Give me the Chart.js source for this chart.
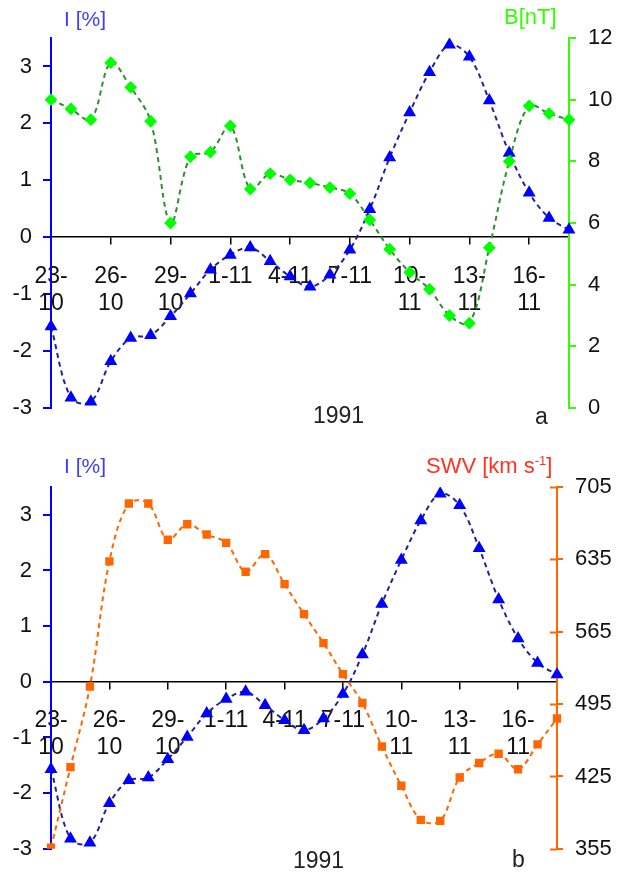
<!DOCTYPE html>
<html>
<head>
<meta charset="utf-8">
<script src="https://cdn.jsdelivr.net/npm/chart.js@4.4.0/dist/chart.umd.min.js"></script>
<style>
  html, body { margin: 0; padding: 0; background: #fff; }
  .panel { width: 620px; height: 437px; }
  canvas { display: block; }
</style>
</head>
<body>
<div class="panel"><canvas id="chartA" width="620" height="437"></canvas></div>
<div class="panel"><canvas id="chartB" width="620" height="437"></canvas></div>
<script>
const days = ['23-10', '24-10', '25-10', '26-10', '27-10', '28-10', '29-10', '30-10', '31-10',
    '1-11', '2-11', '3-11', '4-11', '5-11', '6-11', '7-11', '8-11', '9-11', '10-11',
    '11-11', '12-11', '13-11', '14-11', '15-11', '16-11', '17-11', '18-11'];

// cosmic ray intensity variation, %
const intensity = [-1.57, -2.82, -2.89, -2.18, -1.77, -1.72, -1.39, -0.99, -0.57,
    -0.31, -0.18, -0.42, -0.69, -0.87, -0.66, -0.22, 0.49, 1.40, 2.19,
    2.90, 3.38, 3.17, 2.40, 1.48, 0.78, 0.34, 0.13];

// interplanetary magnetic field, nT
const magneticField = [10.0, 9.7, 9.35, 11.2, 10.4, 9.3, 6.0, 8.15, 8.3,
    9.15, 7.1, 7.6, 7.4, 7.3, 7.15, 6.95, 6.1, 5.15, 4.4,
    3.85, 3.0, 2.75, 5.2, 8.0, 9.8, 9.55, 9.35];

// solar wind velocity, km/s
const windSpeed = [356, 434, 512, 633, 689, 689, 654, 669, 659,
    651, 623, 640, 611, 582, 554, 524, 496, 454, 416,
    383, 382, 424, 438, 447, 432, 456, 481];

const intensityTicks = [-3, -2, -1, 0, 1, 2, 3];
const fieldTicks = [0, 2, 4, 6, 8, 10, 12];
const speedTicks = [355, 425, 495, 565, 635, 705];

const FONT = 'Liberation Sans, Arial, sans-serif';
const BLUE = '#0000ff';
const GREEN = '#33ff00';
const ORANGE = '#ff6600';

function fixTicks(values) {
    return scale => { scale.ticks = values.map(v => ({ value: v })); };
}

function dayLabel(value, index) {
    if (index % 3 !== 0) return null;
    const s = this.getLabelForValue(value);
    return s.length > 4 ? [s.slice(0, 3), s.slice(3)] : s;
}

function xAxis() {
    return {
        type: 'category',
        position: { y: 0 },
        grid: { drawOnChartArea: false, tickLength: 7, color: '#000', lineWidth: 1.5 },
        border: { display: true, color: '#000', width: 1.5 },
        ticks: {
            autoSkip: false, maxRotation: 0, minRotation: 0, padding: 19, color: '#111',
            font: { family: FONT, size: 23, lineHeight: 1.16 },
            callback: dayLabel
        },
        afterFit: s => { s.height = 0; }
    };
}

function yAxis(pos, min, max, values, color, width, tickLen, pad) {
    return {
        position: pos,
        min: min,
        max: max,
        afterBuildTicks: fixTicks(values),
        grid: { drawOnChartArea: false, tickLength: tickLen, color: color, lineWidth: 2 },
        border: { display: true, color: color, width: 2 },
        ticks: { padding: pad, color: '#111', font: { family: FONT, size: 22 } },
        afterFit: s => { s.width = width; }
    };
}

function intensitySet() {
    return {
        label: 'I [%]',
        data: intensity,
        yAxisID: 'y',
        borderColor: '#22229a',
        borderWidth: 2,
        borderDash: [5, 4],
        tension: 0.35,
        pointStyle: 'triangle',
        pointRadius: 5.5,
        pointBackgroundColor: BLUE,
        pointBorderColor: BLUE
    };
}

// free text on the canvas: axis titles, year, panel letter
const annotate = {
    id: 'annotate',
    afterDraw(chart, args, opts) {
        const ctx = chart.ctx;
        ctx.save();
        ctx.textBaseline = 'middle';
        (opts.items || []).forEach(t => {
            const size = t.size || 21;
            ctx.font = size + 'px ' + FONT;
            ctx.fillStyle = t.color;
            ctx.textAlign = 'left';
            let x = t.x;
            t.parts.forEach(p => {
                if (p.sup) {
                    ctx.font = Math.round(size * 0.6) + 'px ' + FONT;
                    ctx.fillText(p.text, x, t.y - 6);
                    x += ctx.measureText(p.text).width;
                    ctx.font = size + 'px ' + FONT;
                } else {
                    ctx.fillText(p.text, x, t.y);
                    x += ctx.measureText(p.text).width;
                }
            });
        });
        // tick marks on the right axis that cross into the plot
        if (opts.crossAxis) {
            const sc = chart.scales[opts.crossAxis];
            ctx.strokeStyle = opts.crossColor;
            ctx.lineWidth = 2;
            sc.ticks.forEach(tk => {
                const py = Math.round(sc.getPixelForValue(tk.value)) + 0.5;
                ctx.beginPath();
                ctx.moveTo(sc.left - 7, py);
                ctx.lineTo(sc.left, py);
                ctx.stroke();
            });
        }
        ctx.restore();
    }
};

new Chart(document.getElementById('chartA'), {
    type: 'line',
    data: {
        labels: days,
        datasets: [
            {
                label: 'B[nT]',
                data: magneticField,
                yAxisID: 'y2',
                borderColor: '#2f8f2f',
                borderWidth: 2,
                borderDash: [5, 4],
                tension: 0.35,
                pointStyle: 'rectRot',
                pointRadius: 5,
                pointBackgroundColor: '#00ff00',
                pointBorderColor: '#00ff00'
            },
            intensitySet()
        ]
    },
    options: {
        responsive: false,
        animation: false,
        layout: { padding: { top: 38, bottom: 29, left: 0, right: 0 } },
        plugins: {
            legend: { display: false },
            tooltip: { enabled: false },
            annotate: {
                items: [
                    { x: 64, y: 20, color: '#3d3dff', parts: [{ text: 'I [%]' }] },
                    { x: 504, y: 18, color: GREEN, size: 22, parts: [{ text: 'B[nT]' }] },
                    { x: 313, y: 417, color: '#222', size: 23, parts: [{ text: '1991' }] },
                    { x: 535, y: 418, color: '#222', size: 23, parts: [{ text: 'a' }] }
                ]
            }
        },
        scales: {
            x: xAxis(),
            y: yAxis('left', -3, 3.5, intensityTicks, BLUE, 51, 8, 11),
            y2: yAxis('right', 0, 12, fieldTicks, GREEN, 51, 7, 12)
        }
    },
    plugins: [annotate]
});

new Chart(document.getElementById('chartB'), {
    type: 'line',
    data: {
        labels: days,
        datasets: [
            {
                label: 'SWV [km s-1]',
                data: windSpeed,
                yAxisID: 'y2',
                borderColor: ORANGE,
                borderWidth: 2,
                borderDash: [5, 4],
                tension: 0.35,
                pointStyle: 'rect',
                pointRadius: 4.5,
                pointBackgroundColor: ORANGE,
                pointBorderColor: ORANGE
            },
            intensitySet()
        ]
    },
    options: {
        responsive: false,
        animation: false,
        layout: { padding: { top: 50, bottom: 18, left: 0, right: 0 } },
        plugins: {
            legend: { display: false },
            tooltip: { enabled: false },
            annotate: {
                crossAxis: 'y2',
                crossColor: ORANGE,
                items: [
                    { x: 64, y: 30, color: '#3d3dff', parts: [{ text: 'I [%]' }] },
                    { x: 426, y: 30, color: '#ff3322', size: 22, parts: [{ text: 'SWV [km s' }, { text: '-1', sup: true }, { text: ']' }] },
                    { x: 293, y: 425, color: '#222', size: 23, parts: [{ text: '1991' }] },
                    { x: 512, y: 424, color: '#222', size: 23, parts: [{ text: 'b' }] }
                ]
            }
        },
        scales: {
            x: xAxis(),
            y: yAxis('left', -3, 3.5, intensityTicks, BLUE, 51, 8, 11),
            y2: yAxis('right', 355, 705, speedTicks, ORANGE, 63, 6, 12)
        }
    },
    plugins: [annotate]
});
</script>
</body>
</html>
